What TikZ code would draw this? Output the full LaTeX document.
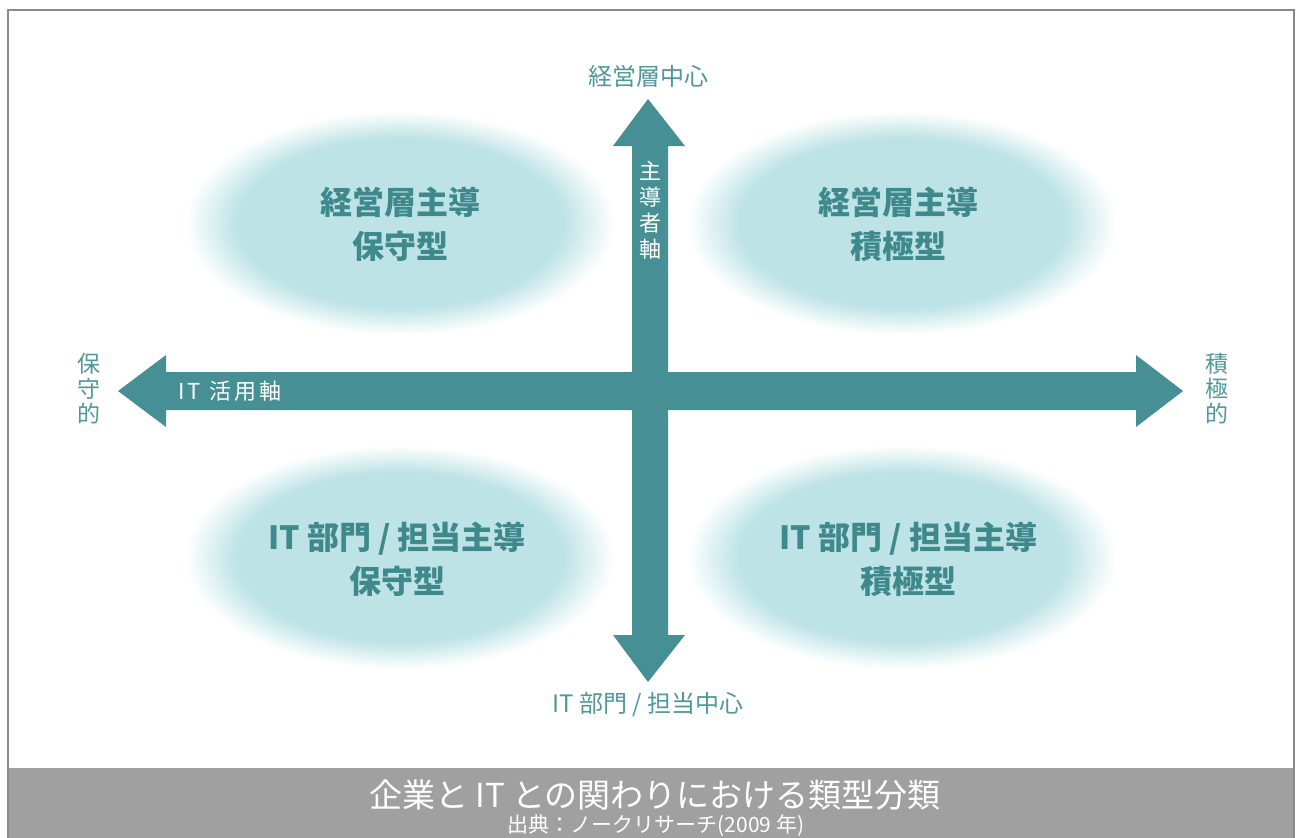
\documentclass[tikz,border=0pt]{standalone}
\usepackage{fontspec}
\setmainfont{Noto Sans CJK JP}
\newfontfamily\jpsp[LetterSpace=15]{Noto Sans CJK JP}
\definecolor{teal}{HTML}{468F94}
\definecolor{labc}{HTML}{4F979C}
\definecolor{darkt}{HTML}{3F898D}
\definecolor{blobc}{HTML}{BEE3E6}
\definecolor{framec}{HTML}{8A8A8A}
\definecolor{barc}{HTML}{A0A0A0}
\pgfdeclareradialshading{blob}{\pgfpoint{0bp}{0bp}}{color(0bp)=(blobc); color(19bp)=(blobc); color(25bp)=(white); color(50bp)=(white)}
\begin{document}
\begin{tikzpicture}[x=1pt,y=-1pt,
  lbl/.style={text=labc, inner sep=0, font=\fontsize{24}{28}\selectfont},
  vlbl/.style={lbl, align=center, font=\fontsize{23}{25}\selectfont},
  blobtext/.style={text=darkt, inner sep=0, align=center, font=\fontsize{32}{44}\selectfont\bfseries},
  arrowc/.style={fill=teal, draw=none},
  blobshape/.style={shading=blob}]
\useasboundingbox (0,0) rectangle (1296,838);
\fill[white] (0,0) rectangle (1296,838);
% blobs
\shade[blobshape] (400,223) ellipse [x radius=215pt, y radius=112pt];
\shade[blobshape] (902,223) ellipse [x radius=215pt, y radius=112pt];
\shade[blobshape] (400,557) ellipse [x radius=215pt, y radius=112pt];
\shade[blobshape] (902,557) ellipse [x radius=215pt, y radius=112pt];
% arrows
\fill[arrowc] (648,99) -- (685,146) -- (668,146) -- (668,635) -- (685,635) -- (648,682) -- (613,635) -- (632,635) -- (632,146) -- (613,146) -- cycle;
\fill[arrowc] (118,391) -- (166,355) -- (166,372) -- (1136,372) -- (1136,355) -- (1183,391) -- (1136,427) -- (1136,410) -- (166,410) -- (166,427) -- cycle;
% axis labels
\node[lbl] (top) at (648,76) {経営層中心};
\node[lbl] (bottom) at (648,705) {IT 部門 / 担当中心};
\node[vlbl] (left) at (89,389) {保\\守\\的};
\node[vlbl] (right) at (1217,389) {積\\極\\的};
\node[text=white, inner sep=0, align=center, font=\fontsize{22}{26}\selectfont] (vaxis) at (650,210) {主\\導\\者\\軸};
\node[text=white, inner sep=0, anchor=west, font=\fontsize{22}{26}\jpsp] (haxis) at (178,391) {IT 活用軸};
% quadrant texts
\node[blobtext] (q1) at (400,224) {経営層主導\\保守型};
\node[blobtext] (q2) at (898,224) {経営層主導\\積極型};
\node[blobtext] (q3) at (397,559) {IT 部門 / 担当主導\\保守型};
\node[blobtext] (q4) at (908,559) {IT 部門 / 担当主導\\積極型};
% frame and bar
\fill[barc] (9,768) rectangle (1295,838);
\draw[framec, line width=2.5pt] (8,838) -- (8,10) -- (1294,10) -- (1294,838);
\node[text=white, inner sep=0, font=\fontsize{33}{38}\selectfont] (title) at (655,795) {企業と IT との関わりにおける類型分類};
\node[text=white, inner sep=0, font=\fontsize{21}{24}\selectfont] (src) at (656,826) {出典：ノークリサーチ(2009 年)};
\end{tikzpicture}
\end{document}
